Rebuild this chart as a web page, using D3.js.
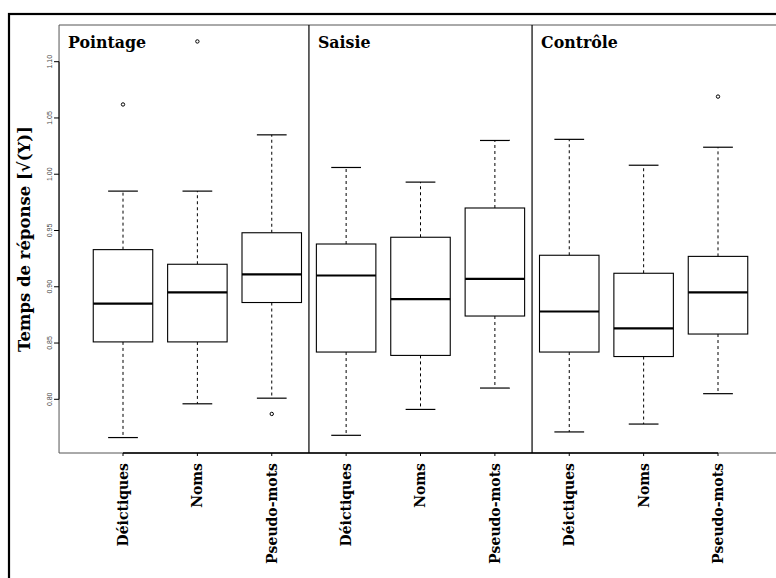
<!DOCTYPE html>
<html>
<head>
<meta charset="utf-8">
<script src="https://cdn.jsdelivr.net/npm/d3@7"></script>
<style>
  html, body { margin: 0; padding: 0; background: #fff; }
  svg { display: block; }
</style>
</head>
<body>
<svg id="chart" width="776" height="578"></svg>
<script>
// ---- data ----
const conditions = ["Pointage", "Saisie", "Contrôle"];
const categories = ["Déictiques", "Noms", "Pseudo-mots"];
// one entry per box, in order: Pointage(D,N,P), Saisie(D,N,P), Contrôle(D,N,P)
const lowerWhisker = [0.766, 0.796, 0.801, 0.768, 0.791, 0.810, 0.771, 0.778, 0.805];
const q1Values     = [0.851, 0.851, 0.886, 0.842, 0.839, 0.874, 0.842, 0.838, 0.858];
const medianValues = [0.885, 0.895, 0.911, 0.910, 0.889, 0.907, 0.878, 0.863, 0.895];
const q3Values     = [0.933, 0.920, 0.948, 0.938, 0.944, 0.970, 0.928, 0.912, 0.927];
const upperWhisker = [0.985, 0.985, 1.035, 1.006, 0.993, 1.030, 1.031, 1.008, 1.024];
const outlierBox   = [1, 2, 3, 9];
const outlierValue = [1.062, 1.118, 0.787, 1.069];
const yTicks = [0.80, 0.85, 0.90, 0.95, 1.00, 1.05, 1.10];
const yTickLabels = ["0.80", "0.85", "0.90", "0.95", "1.00", "1.05", "1.10"];
const yTitle = "Temps de réponse [√(Y)]";

// ---- layout ----
const svg = d3.select("#chart");
const serif = "'DejaVu Serif', 'Liberation Serif', serif";
const n = conditions.length * categories.length;
const x = d3.scaleLinear().domain([1, n]).range([123, 718]);
const y = d3.scaleLinear().domain([0.80, 1.10]).range([399.3, 61.7]);
const xLo = x(0.14), xHi = x(n + 0.86);
const yTop = 25, yBot = 453;
const boxW = x(1.8) - x(1);
const capW = x(1.4) - x(1);

// outer frame
svg.append("rect").attr("x", 9).attr("y", 14).attr("width", 800).attr("height", 600)
  .attr("fill", "none").attr("stroke", "#000").attr("stroke-width", 2.2);

// plot box (top, left, bottom)
svg.append("path")
  .attr("d", `M${xHi},${yTop}H${xLo}V${yBot}H${xHi}`)
  .attr("fill", "none").attr("stroke", "#555").attr("stroke-width", 1);

// panel dividers
const panelEdges = [xLo, x(3.5), x(6.5)];
[3.5, 6.5].forEach(p => {
  svg.append("line").attr("x1", x(p)).attr("x2", x(p)).attr("y1", yTop).attr("y2", yBot)
    .attr("stroke", "#000").attr("stroke-width", 1.2);
});

// panel labels
conditions.forEach((c, i) => {
  svg.append("text").attr("x", panelEdges[i] + 9).attr("y", 48)
    .attr("font-family", serif).attr("font-weight", "bold").attr("font-size", 15.8)
    .attr("fill", "#000").text(c);
});

// boxes
const boxes = d3.range(n).map(i => ({
  pos: i + 1, lo: lowerWhisker[i], q1: q1Values[i], med: medianValues[i],
  q3: q3Values[i], hi: upperWhisker[i]
}));
const g = svg.append("g");
boxes.forEach(b => {
  const cx = x(b.pos);
  // whiskers (dashed)
  g.append("line").attr("x1", cx).attr("x2", cx).attr("y1", y(b.q3)).attr("y2", y(b.hi))
    .attr("stroke", "#000").attr("stroke-width", 1).attr("stroke-dasharray", "3,3");
  g.append("line").attr("x1", cx).attr("x2", cx).attr("y1", y(b.q1)).attr("y2", y(b.lo))
    .attr("stroke", "#000").attr("stroke-width", 1).attr("stroke-dasharray", "3,3");
  // caps
  [b.hi, b.lo].forEach(v => {
    g.append("line").attr("x1", cx - capW / 2).attr("x2", cx + capW / 2)
      .attr("y1", y(v)).attr("y2", y(v)).attr("stroke", "#000").attr("stroke-width", 1.2);
  });
  // box
  g.append("rect").attr("x", cx - boxW / 2).attr("y", y(b.q3))
    .attr("width", boxW).attr("height", y(b.q1) - y(b.q3))
    .attr("fill", "#fff").attr("stroke", "#000").attr("stroke-width", 1.1);
  // median
  g.append("line").attr("x1", cx - boxW / 2).attr("x2", cx + boxW / 2)
    .attr("y1", y(b.med)).attr("y2", y(b.med)).attr("stroke", "#000").attr("stroke-width", 2.2);
});

// outliers
outlierBox.forEach((p, i) => {
  g.append("circle").attr("cx", x(p)).attr("cy", y(outlierValue[i])).attr("r", 1.7)
    .attr("fill", "none").attr("stroke", "#000").attr("stroke-width", 1);
});

// y axis
svg.append("line").attr("x1", xLo).attr("x2", xLo).attr("y1", y(yTicks[0])).attr("y2", y(yTicks[yTicks.length - 1]))
  .attr("stroke", "#000").attr("stroke-width", 1);
yTicks.forEach((t, i) => {
  svg.append("line").attr("x1", xLo - 5).attr("x2", xLo).attr("y1", y(t)).attr("y2", y(t))
    .attr("stroke", "#000").attr("stroke-width", 1);
  svg.append("text").attr("transform", `translate(51.5,${y(t)}) rotate(-90)`)
    .attr("text-anchor", "middle").attr("font-family", "'Liberation Sans', Arial, sans-serif")
    .attr("font-size", 7).attr("fill", "#444").text(yTickLabels[i]);
});

// y title
svg.append("text").attr("transform", `translate(30,${(yTop + yBot) / 2}) rotate(-90)`)
  .attr("text-anchor", "middle").attr("font-family", serif).attr("font-weight", "bold")
  .attr("font-size", 16.5).attr("fill", "#000").text(yTitle);

// x axis
svg.append("line").attr("x1", x(1)).attr("x2", x(n)).attr("y1", yBot).attr("y2", yBot)
  .attr("stroke", "#000").attr("stroke-width", 1.3);
boxes.forEach((b, i) => {
  const cx = x(b.pos);
  svg.append("line").attr("x1", cx).attr("x2", cx).attr("y1", yBot).attr("y2", yBot + 3)
    .attr("stroke", "#000").attr("stroke-width", 1);
  svg.append("text").attr("transform", `translate(${cx},463) rotate(-90)`)
    .attr("text-anchor", "end").attr("dy", "0.35em")
    .attr("font-family", serif).attr("font-weight", "bold").attr("font-size", 14)
    .attr("fill", "#000").text(categories[i % categories.length]);
});
</script>
</body>
</html>
